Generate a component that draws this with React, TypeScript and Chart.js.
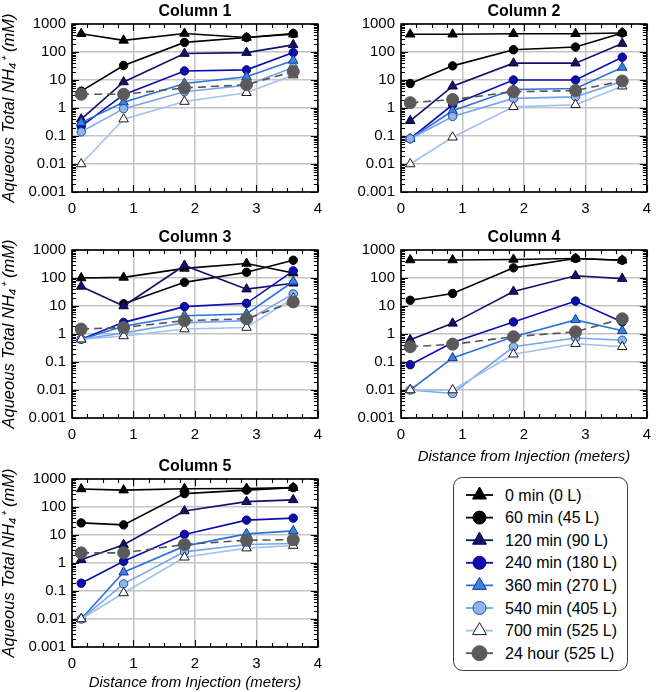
import React, { useEffect, useRef } from "react";
import { Chart, registerables } from "chart.js";
Chart.register(...registerables);

const FONT = "'Liberation Sans', Arial, Helvetica, sans-serif";
Chart.defaults.font.family = FONT;
Chart.defaults.color = "#000";

// ---------- data ----------
const DISTANCE = [0.15, 0.84, 1.83, 2.84, 3.6];
const X_TICKS = [0, 1, 2, 3, 4];
const Y_TICKS = [0.001, 0.01, 0.1, 1, 10, 100, 1000];
const Y_TICK_LABELS = ["0.001", "0.01", "0.1", "1", "10", "100", "1000"];
const SERIES = [
  "0 min (0 L)",
  "60 min (45 L)",
  "120 min (90 L)",
  "240 min (180 L)",
  "360 min (270 L)",
  "540 min (405 L)",
  "700 min (525 L)",
  "24 hour (525 L)",
];
const PANEL_TITLES = ["Column 1", "Column 2", "Column 3", "Column 4", "Column 5"];
const Y_TITLE = "Aqueous Total NH\u2084\u207A (mM)";
const X_TITLE = "Distance from Injection (meters)";

const col1_t0 = [450, 260, 460, 330, 430];
const col1_t60 = [4, 33, 220, 330, 460];
const col1_t120 = [0.4, 8.5, 88, 95, 180];
const col1_t240 = [0.22, 3.0, 21, 23, 95];
const col1_t360 = [0.3, 1.6, 7.5, 13, 50];
const col1_t540 = [0.14, 0.95, 3.8, 6.5, 28];
const col1_t700 = [0.01, 0.4, 1.7, 3.5, 15];
const col1_t24h = [3.1, 3.1, 5.2, 6.8, 20];

const col2_t0 = [430, 430, 450, 450, 480];
const col2_t60 = [7.5, 32, 120, 150, 480];
const col2_t120 = [0.35, 6, 40, 40, 200];
const col2_t240 = [0.08, 1.3, 10, 10, 65];
const col2_t360 = [0.08, 0.8, 4.6, 5, 28];
const col2_t540 = [0.08, 0.5, 2.2, 2.5, 9];
const col2_t700 = [0.01, 0.09, 1.1, 1.3, 6];
const col2_t24h = [1.55, 2.0, 3.8, 4.2, 9.2];

const col3_t0 = [100, 105, 220, 330, 150];
const col3_t60 = [null, 12, 70, 160, 430];
const col3_t120 = [50, 10, 280, 40, 65];
const col3_t240 = [0.65, 2.6, 9.5, 12.5, 180];
const col3_t360 = [0.65, 1.9, 4.5, 5.2, 75];
const col3_t540 = [0.65, 1.1, 2.5, 3.0, 27];
const col3_t700 = [0.65, 0.85, 1.5, 1.7, 19];
const col3_t24h = [1.5, 1.7, 3.0, 3.5, 14];

const col4_t0 = [440, 440, 460, 500, 430];
const col4_t60 = [16, 28, 230, 500, 430];
const col4_t120 = [0.62, 2.4, 33, 120, 95];
const col4_t240 = [0.08, 0.5, 2.7, 15, 2.7];
const col4_t360 = [0.01, 0.14, 0.8, 3.2, 1.3];
const col4_t540 = [0.01, 0.0075, 0.35, 0.72, 0.6];
const col4_t700 = [0.01, 0.01, 0.19, 0.45, 0.35];
const col4_t24h = [0.35, 0.43, 0.8, 1.2, 3.5];

const col5_t0 = [440, 400, 450, 460, 490];
const col5_t60 = [27, 23, 300, 400, 490];
const col5_t120 = [1.3, 4.5, 72, 155, 180];
const col5_t240 = [0.19, 1.15, 10.5, 34, 40];
const col5_t360 = [0.01, 0.47, 4.0, 11, 14];
const col5_t540 = [0.01, 0.18, 2.5, 4.6, 5.0];
const col5_t700 = [0.01, 0.085, 1.6, 3.4, 4.2];
const col5_t24h = [2.3, 2.3, 4.6, 6.5, 6.8];

const COLUMNS = [
  [col1_t0, col1_t60, col1_t120, col1_t240, col1_t360, col1_t540, col1_t700, col1_t24h],
  [col2_t0, col2_t60, col2_t120, col2_t240, col2_t360, col2_t540, col2_t700, col2_t24h],
  [col3_t0, col3_t60, col3_t120, col3_t240, col3_t360, col3_t540, col3_t700, col3_t24h],
  [col4_t0, col4_t60, col4_t120, col4_t240, col4_t360, col4_t540, col4_t700, col4_t24h],
  [col5_t0, col5_t60, col5_t120, col5_t240, col5_t360, col5_t540, col5_t700, col5_t24h],
];

// ---------- styles ----------
const STYLES = [
  { line: "#000000", fill: "#000000", edge: "#000000", shape: "triangle", r: 5.5, lr: 8, dash: [] as number[] },
  { line: "#000000", fill: "#000000", edge: "#000000", shape: "circle", r: 4.2, lr: 6.5, dash: [] },
  { line: "#12126b", fill: "#12126b", edge: "#05052e", shape: "triangle", r: 5.5, lr: 8, dash: [] },
  { line: "#0c0cb0", fill: "#0c0cb4", edge: "#050560", shape: "circle", r: 4.2, lr: 6.5, dash: [] },
  { line: "#2b72dc", fill: "#3a80e6", edge: "#0d3a8c", shape: "triangle", r: 5.5, lr: 8, dash: [] },
  { line: "#78a4ec", fill: "#8cb6f4", edge: "#2b4c8c", shape: "circle", r: 4.2, lr: 6.5, dash: [] },
  { line: "#9fc0f4", fill: "#ffffff", edge: "#1a1a1a", shape: "triangle", r: 5.5, lr: 8, dash: [] },
  { line: "#555555", fill: "#5a5a5a", edge: "#5a5a5a", shape: "circle", r: 6, lr: 7.5, dash: [8, 5] },
];

const PLOT_TOP = 24;
const PLOT_BOTTOM = 192;
const PLOT_LEFT = 72;
const PLOT_RIGHT = 324;

const PANELS = [
  { left: 0, top: 0, w: 330, h: 226, yTitle: true, xTitle: false },
  { left: 329, top: 0, w: 330, h: 226, yTitle: false, xTitle: false },
  { left: 0, top: 226, w: 330, h: 226, yTitle: true, xTitle: false },
  { left: 329, top: 226, w: 330, h: 240, yTitle: false, xTitle: true },
  { left: 0, top: 455, w: 330, h: 237, yTitle: true, xTitle: true },
];

const framePlugin = {
  id: "frameTicks",
  beforeDatasetsDraw(chart: any) {
    const { ctx, chartArea: a, scales } = chart;
    const xs = scales.x;
    const ys = scales.y;
    ctx.save();
    ctx.strokeStyle = "#000";
    ctx.lineWidth = 1.1;
    ctx.beginPath();
    for (let d = -3; d <= 3; d++) {
      for (let m = 1; m <= 9; m++) {
        const v = m * Math.pow(10, d);
        if (v > 1000.0001) break;
        const py = Math.round(ys.getPixelForValue(v)) + 0.5;
        const len = m === 1 ? 7 : 4;
        ctx.moveTo(a.left, py);
        ctx.lineTo(a.left + len, py);
        ctx.moveTo(a.right, py);
        ctx.lineTo(a.right - len, py);
      }
    }
    for (let i = 0; i <= 16; i++) {
      const px = Math.round(xs.getPixelForValue(i * 0.25)) + 0.5;
      const len = i % 4 === 0 ? 7 : 4;
      ctx.moveTo(px, a.bottom);
      ctx.lineTo(px, a.bottom - len);
      ctx.moveTo(px, a.top);
      ctx.lineTo(px, a.top + len);
    }
    ctx.stroke();
    ctx.lineWidth = 1.6;
    ctx.strokeRect(a.left, a.top, a.right - a.left, a.bottom - a.top);
    ctx.restore();
  },
};

function Panel({ idx }: { idx: number }) {
  const ref = useRef<HTMLCanvasElement>(null);
  const p = PANELS[idx];
  useEffect(() => {
    const cols = COLUMNS[idx];
    const datasets = cols.map((vals, i) => {
      const s = STYLES[i];
      return {
        label: SERIES[i],
        data: DISTANCE.map((x, k) => ({ x, y: vals[k] })).filter((pt) => pt.y !== null),
        borderColor: s.line,
        backgroundColor: s.fill,
        borderWidth: 1.6,
        borderDash: s.dash,
        pointStyle: s.shape,
        pointRadius: s.r,
        pointBackgroundColor: s.fill,
        pointBorderColor: s.edge,
        pointBorderWidth: 1,
        fill: false,
        tension: 0,
        order: -i,
      };
    });
    const chart = new Chart(ref.current as HTMLCanvasElement, {
      type: "line",
      data: { datasets },
      plugins: [framePlugin],
      options: {
        animation: false,
        responsive: false,
        devicePixelRatio: 1,
        layout: { padding: { left: 0, right: p.w - PLOT_RIGHT, top: 0, bottom: 0 } },
        plugins: {
          legend: { display: false },
          tooltip: { enabled: false },
          title: {
            display: true,
            text: PANEL_TITLES[idx],
            fullSize: false,
            color: "#000",
            font: { size: 16, weight: "bold", family: FONT },
            padding: { top: 2, bottom: PLOT_TOP - 2 - 16 * 1.2 },
          },
        },
        scales: {
          x: {
            type: "linear",
            min: 0,
            max: 4,
            afterBuildTicks: (s: any) => {
              s.ticks = X_TICKS.map((v) => ({ value: v }));
            },
            afterFit: (s: any) => {
              s.height = p.h - PLOT_BOTTOM;
            },
            grid: { color: "#c4c4c4", lineWidth: 1.5, drawTicks: false },
            border: { display: false },
            ticks: { font: { size: 15, family: FONT }, color: "#000", padding: 8, autoSkip: false, maxRotation: 0 },
            title: {
              display: p.xTitle,
              text: X_TITLE,
              color: "#000",
              font: { size: 15, style: "italic", family: FONT },
              padding: { top: 0, bottom: 0 },
            },
          },
          y: {
            type: "logarithmic",
            min: 0.001,
            max: 1000,
            afterBuildTicks: (s: any) => {
              s.ticks = Y_TICKS.map((v) => ({ value: v }));
            },
            afterFit: (s: any) => {
              s.width = PLOT_LEFT;
            },
            grid: { color: "#c4c4c4", lineWidth: 1.5, drawTicks: false },
            border: { display: false },
            ticks: {
              font: { size: 15, family: FONT },
              color: "#000",
              padding: 6,
              autoSkip: false,
              callback: (v: any, i: number) => Y_TICK_LABELS[i],
            },
            title: {
              display: p.yTitle,
              text: Y_TITLE,
              color: "#000",
              font: { size: 16.5, style: "italic", family: FONT },
              padding: { top: 0, bottom: 0 },
            },
          },
        },
      } as any,
    });
    return () => chart.destroy();
  }, [idx]);
  return (
    <canvas
      ref={ref}
      width={p.w}
      height={p.h}
      style={{ position: "absolute", left: p.left, top: p.top, width: p.w, height: p.h }}
    />
  );
}

function LegendMarker({ i, cx, cy }: { i: number; cx: number; cy: number }) {
  const s = STYLES[i];
  const r = s.lr;
  const marker =
    s.shape === "triangle" ? (
      <polygon
        points={`${cx},${cy - r} ${cx + r * 0.866},${cy + r / 2} ${cx - r * 0.866},${cy + r / 2}`}
        fill={s.fill}
        stroke={s.edge}
        strokeWidth={1}
      />
    ) : (
      <circle cx={cx} cy={cy} r={r} fill={s.fill} stroke={s.edge} strokeWidth={1} />
    );
  return (
    <g>
      <line x1={cx - 13.5} y1={cy} x2={cx + 13.5} y2={cy} stroke={s.line} strokeWidth={1.8} />
      {marker}
    </g>
  );
}

function Legend() {
  const W = 175;
  const H = 194;
  return (
    <svg width={W} height={H} style={{ position: "absolute", left: 453, top: 477 }}>
      <rect x={0.5} y={0.5} width={W - 1} height={H - 1} rx={9} ry={9} fill="#fff" stroke="#3a3a3a" strokeWidth={1} />
      {SERIES.map((name, i) => {
        const cy = 18 + i * 22.6;
        return (
          <g key={name}>
            <LegendMarker i={i} cx={26.5} cy={cy} />
            <text x={52} y={cy} dominantBaseline="central" fontFamily={FONT} fontSize={16} fill="#000">
              {name}
            </text>
          </g>
        );
      })}
    </svg>
  );
}

export default function App() {
  return (
    <div
      style={{
        position: "fixed",
        left: 0,
        top: 0,
        width: 657,
        height: 692,
        overflow: "hidden",
        background: "#fff",
      }}
    >
      {PANELS.map((_, i) => (
        <Panel key={i} idx={i} />
      ))}
      <Legend />
    </div>
  );
}
